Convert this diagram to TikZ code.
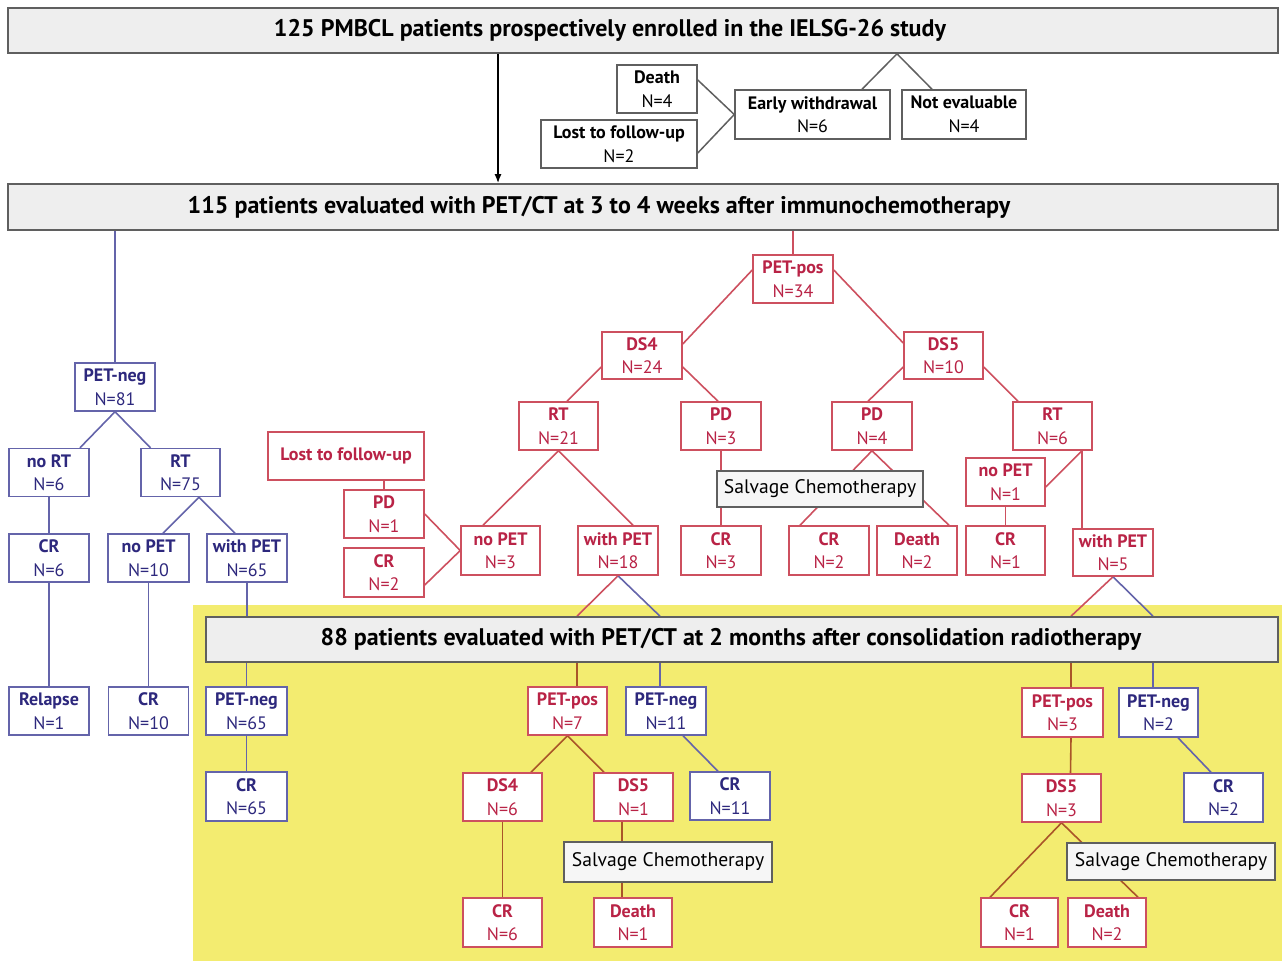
\documentclass[tikz,border=0pt]{standalone}
\usepackage{fontspec}
\setmainfont{PT Sans}
\usetikzlibrary{arrows.meta}

\definecolor{redtext}{RGB}{185,35,70}
\definecolor{redline}{RGB}{205,80,95}
\definecolor{ochre}{RGB}{170,85,40}
\definecolor{bluetext}{RGB}{45,40,125}
\definecolor{blueline}{RGB}{100,100,170}
\definecolor{boxgray}{RGB}{95,95,95}
\definecolor{panelfill}{RGB}{238,238,238}
\definecolor{salvfill}{RGB}{246,246,246}
\definecolor{paleyellow}{RGB}{243,236,112}

\pgfdeclarelayer{back}
\pgfdeclarelayer{links}
\pgfsetlayers{back,links,main}

\tikzset{
  panel/.style={draw=boxgray, fill=panelfill, line width=1.6pt, inner sep=0pt,
    minimum height=45pt, font=\bfseries\fontsize{24}{26}\selectfont},
  greybox/.style={draw=boxgray, fill=white, line width=1.5pt, align=center,
    inner sep=0pt, minimum width=80pt, minimum height=48pt,
    font=\fontsize{18}{23.5}\selectfont},
  redbox/.style={greybox, draw=redline, text=redtext},
  bluebox/.style={greybox, draw=blueline, text=bluetext},
  salvage/.style={draw=boxgray, fill=salvfill, line width=1.5pt, inner sep=0pt,
    minimum height=38pt, font=\fontsize{19.6}{21}\selectfont},
  redlink/.style={draw=redline, line width=1.6pt},
  ochrelink/.style={draw=ochre, line width=1.6pt},
  bluelink/.style={draw=blueline, line width=1.6pt},
  greylink/.style={draw=boxgray, line width=1.5pt}
}
\newcommand{\twoline}[2]{\textbf{#1}\\#2}

\begin{document}
\begin{tikzpicture}[x=1pt,y=-1pt]
		\useasboundingbox (0,0) rectangle (1282,961);
		
		%yellow area
		\begin{pgfonlayer}{back}
		\fill[paleyellow] (193,605) rectangle (1282,961);
		\end{pgfonlayer}
		
		%evaluation panels
		\node[panel, minimum width=1270pt] (enroll) at (643,30.5) {125 PMBCL patients prospectively enrolled in the IELSG-26 study\hspace*{66pt}};
		\node[panel, minimum width=1270pt, minimum height=46pt] (firsteval) at (643,207) {115 patients evaluated with PET/CT at 3 to 4 weeks after immunochemotherapy\hspace*{88pt}};
		\node[panel, minimum width=1072pt] (secondeval) at (742,639.5) {88 patients evaluated with PET/CT at 2 months after consolidation radiotherapy\hspace*{22pt}};
		
		%drop-outs
		\node[greybox] (death0) at (657,89) {\twoline{Death}{N=4}};
		\node[greybox, minimum width=156pt] (lost0) at (619,144) {\twoline{Lost to follow-up}{N=2}};
		\node[greybox, minimum width=155pt, minimum height=49pt] (early) at (812.5,114.5) {\twoline{Early withdrawal}{N=6}};
		\node[greybox, minimum width=124pt, minimum height=49pt] (noteval) at (964,114.5) {\twoline{Not evaluable}{N=4}};
		
		%PET-negative branch
		\node[bluebox] (petneg81) at (115,387) {\twoline{PET-neg}{N=81}};
		\node[bluebox] (nort) at (49,472.5) {\twoline{no RT}{N=6}};
		\node[bluebox, minimum width=79pt] (rt75) at (180.5,472.5) {\twoline{RT}{N=75}};
		\node[bluebox] (cr6) at (49,558) {\twoline{CR}{N=6}};
		\node[bluebox, minimum width=81pt] (nopet10) at (148.5,558) {\twoline{no PET}{N=10}};
		\node[bluebox] (withpet65) at (247,558) {\twoline{with PET}{N=65}};
		\node[bluebox] (relapse) at (49,711) {\twoline{Relapse}{N=1}};
		\node[bluebox] (cr10) at (148.5,711) {\twoline{CR}{N=10}};
		\node[bluebox, minimum width=81pt] (petneg65) at (246.5,711) {\twoline{PET-neg}{N=65}};
		\node[bluebox, minimum width=81pt, minimum height=49pt] (cr65) at (246.5,796.5) {\twoline{CR}{N=65}};
		
		%PET-positive branch
		\node[redbox] (petpos34) at (793,279) {\twoline{PET-pos}{N=34}};
		\node[redbox, minimum height=47pt] (ds4) at (642,355.5) {\twoline{DS4}{N=24}};
		\node[redbox, minimum width=79pt, minimum height=47pt] (ds5) at (943.5,355.5) {\twoline{DS5}{N=10}};
		\node[redbox, minimum width=79pt] (rt21) at (558.5,426) {\twoline{RT}{N=21}};
		\node[redbox] (pd3) at (721,426) {\twoline{PD}{N=3}};
		\node[redbox] (pd4) at (872,426) {\twoline{PD}{N=4}};
		\node[redbox, minimum width=79pt] (rt6) at (1052.5,426) {\twoline{RT}{N=6}};
		\node[redbox, minimum width=156pt, font=\bfseries\fontsize{18}{23.5}\selectfont] (lostfu) at (346,456) {Lost to follow-up};
		\node[redbox] (pd1) at (384,514) {\twoline{PD}{N=1}};
		\node[redbox, minimum height=49pt] (cr2b) at (384,572.5) {\twoline{CR}{N=2}};
		\node[redbox, minimum width=79pt, minimum height=49pt] (nopet3) at (500.5,550.5) {\twoline{no PET}{N=3}};
		\node[redbox, minimum height=49pt] (withpet18) at (618,550.5) {\twoline{with PET}{N=18}};
		\node[redbox, minimum height=49pt] (cr3) at (721,550.5) {\twoline{CR}{N=3}};
		\node[salvage, minimum width=206pt, minimum height=36pt] (salv1) at (820,489) {Salvage Chemotherapy};
		\node[redbox, minimum height=49pt] (cr2) at (829,550.5) {\twoline{CR}{N=2}};
		\node[redbox, minimum height=49pt] (death2) at (917,550.5) {\twoline{Death}{N=2}};
		\node[redbox, minimum width=79pt] (nopet1) at (1005.5,482) {\twoline{no PET}{N=1}};
		\node[redbox, minimum width=79pt, minimum height=49pt] (cr1) at (1005.5,550.5) {\twoline{CR}{N=1}};
		\node[redbox, minimum height=47pt] (withpet5) at (1113,552.5) {\twoline{with PET}{N=5}};
		
		%after radiotherapy
		\node[redbox, minimum width=79pt] (petpos7) at (567.5,711) {\twoline{PET-pos}{N=7}};
		\node[bluebox] (petneg11) at (666,711) {\twoline{PET-neg}{N=11}};
		\node[redbox, minimum width=79pt] (ds4b) at (502.5,797) {\twoline{DS4}{N=6}};
		\node[redbox, minimum width=79pt] (ds5b) at (633.5,797) {\twoline{DS5}{N=1}};
		\node[bluebox] (cr11) at (730,796) {\twoline{CR}{N=11}};
		\node[salvage, minimum width=208pt, minimum height=40pt] (salv2) at (668,862) {Salvage Chemotherapy};
		\node[redbox, minimum width=79pt, minimum height=49pt] (crb6) at (502.5,922.5) {\twoline{CR}{N=6}};
		\node[redbox, minimum width=78pt, minimum height=49pt] (deathb1) at (633,922.5) {\twoline{Death}{N=1}};
		\node[redbox, minimum width=81pt, minimum height=49pt] (petpos3) at (1062.5,712.5) {\twoline{PET-pos}{N=3}};
		\node[bluebox, minimum width=79pt, minimum height=49pt] (petneg2) at (1158.5,712.5) {\twoline{PET-neg}{N=2}};
		\node[redbox, minimum width=79pt] (ds5c) at (1061.5,798) {\twoline{DS5}{N=3}};
		\node[bluebox, minimum width=79pt, minimum height=49pt] (crb2) at (1223.5,797.5) {\twoline{CR}{N=2}};
		\node[salvage, minimum width=208pt, minimum height=37pt] (salv3) at (1171,861.5) {Salvage Chemotherapy};
		\node[redbox, minimum width=77pt, minimum height=49pt] (crb1) at (1019.5,922.5) {\twoline{CR}{N=1}};
		\node[redbox, minimum width=78pt, minimum height=49pt] (deathb2) at (1107,922.5) {\twoline{Death}{N=2}};
		
		\begin{pgfonlayer}{links}
		%enrollment
		\draw[line width=1.6pt, -{Latex[length=9pt,width=7pt]}] ([xshift=-145pt]enroll.south) -- ([xshift=-145pt]firsteval.north);
		\draw[greylink] ([xshift=49.5pt]early.north) -- ([xshift=254pt]enroll.south) -- ([xshift=-32pt]noteval.north);
		\draw[greylink] ([yshift=9pt]death0.east) -- (early.west) -- ([yshift=-9pt]lost0.east);
		
		%PET-negative links
		\draw[bluelink] (firsteval.south -| petneg81.north) -- (petneg81.north);
		\draw[bluelink] ([xshift=31pt]nort.north) -- (petneg81.south) -- ([xshift=-30pt]rt75.north);
		\draw[bluelink] (nort.south) -- (cr6.north);
		\draw[bluelink] ([xshift=14.5pt]nopet10.north) -- ([xshift=18.5pt]rt75.south) -- ([xshift=-12pt]withpet65.north);
		\draw[bluelink] (cr6.south) -- (relapse.north);
		\draw[bluelink] (nopet10.south) -- (cr10.north);
		\draw[bluelink] (withpet65.south) -- (withpet65.south |- secondeval.north);
		\draw[bluelink] (secondeval.south -| petneg65.north) -- (petneg65.north);
		\draw[bluelink] (petneg65.south) -- (cr65.north);
		
		%PET-positive links
		\draw[redlink] (firsteval.south -| petpos34.north) -- (petpos34.north);
		\draw[redlink] ([yshift=9pt]petpos34.west) -- ([yshift=11.5pt]ds4.east);
		\draw[redlink] ([yshift=9pt]petpos34.east) -- ([yshift=12.5pt]ds5.west);
		\draw[redlink] ([yshift=-11.5pt]ds4.west) -- ([xshift=8.5pt]rt21.north);
		\draw[redlink] ([yshift=-11.5pt]ds4.east) -- ([xshift=-3pt]pd3.north);
		\draw[redlink] ([yshift=-11.5pt]ds5.west) -- ([xshift=-4pt]pd4.north);
		\draw[redlink] ([yshift=-11.5pt]ds5.east) -- ([xshift=-34.5pt]rt6.north);
		\draw[redlink] ([xshift=-17.5pt]nopet3.north) -- (rt21.south) -- ([xshift=15pt]withpet18.north);
		\draw[redlink] (pd3.south) -- (cr3.north);
		\draw[redlink] ([xshift=-29pt]cr2.north) -- (pd4.south) -- ([xshift=32pt]death2.north);
		\draw[redlink] ([yshift=-5pt]nopet1.east) -- ([xshift=29.5pt]rt6.south) -- ([xshift=-31pt]withpet5.north);
		\draw[redlink] (nopet1.south) -- (cr1.north);
		\draw[redlink] (lostfu.south -| pd1.north) -- (pd1.north);
		\draw[redlink] (pd1.east) -- (nopet3.west) -- ([yshift=-12.5pt]cr2b.east);
		
		%into the second evaluation
		\draw[redlink] (withpet18.south) -- ([xshift=9.5pt]petpos7.north |- secondeval.north);
		\draw[bluelink] (withpet18.south) -- ([xshift=-6pt]petneg11.north |- secondeval.north);
		\draw[redlink] (withpet5.south) -- ([xshift=8.5pt]petpos3.north |- secondeval.north);
		\draw[bluelink] (withpet5.south) -- ([xshift=-5.5pt]petneg2.north |- secondeval.north);
		
		%after radiotherapy links
		\draw[ochrelink] ([xshift=9.5pt]petpos7.north |- secondeval.south) -- ([xshift=9.5pt]petpos7.north);
		\draw[bluelink] ([xshift=-6pt]petneg11.north |- secondeval.south) -- ([xshift=-6pt]petneg11.north);
		\draw[ochrelink] ([xshift=28.5pt]ds4b.north) -- (petpos7.south) -- ([xshift=-29.5pt]ds5b.north);
		\draw[bluelink] ([xshift=17pt]petneg11.south) -- ([xshift=-12pt]cr11.north);
		\draw[ochrelink] (ds4b.south) -- (crb6.north);
		\draw[ochrelink] ([xshift=-11.5pt]ds5b.south) -- ([xshift=-11pt]deathb1.north);
		\draw[ochrelink] ([xshift=8.5pt]petpos3.north |- secondeval.south) -- ([xshift=8.5pt]petpos3.north);
		\draw[bluelink] ([xshift=-5.5pt]petneg2.north |- secondeval.south) -- ([xshift=-5.5pt]petneg2.north);
		\draw[ochrelink] ([xshift=8.5pt]petpos3.south) -- ([xshift=9pt]ds5c.north);
		\draw[bluelink] ([xshift=19.5pt]petneg2.south) -- ([xshift=-12.5pt]crb2.north);
		\draw[ochrelink] ([xshift=-29.5pt]crb1.north) -- (ds5c.south) -- ([xshift=31pt]deathb2.north);
		\end{pgfonlayer}
		\end{tikzpicture}
\end{document}
